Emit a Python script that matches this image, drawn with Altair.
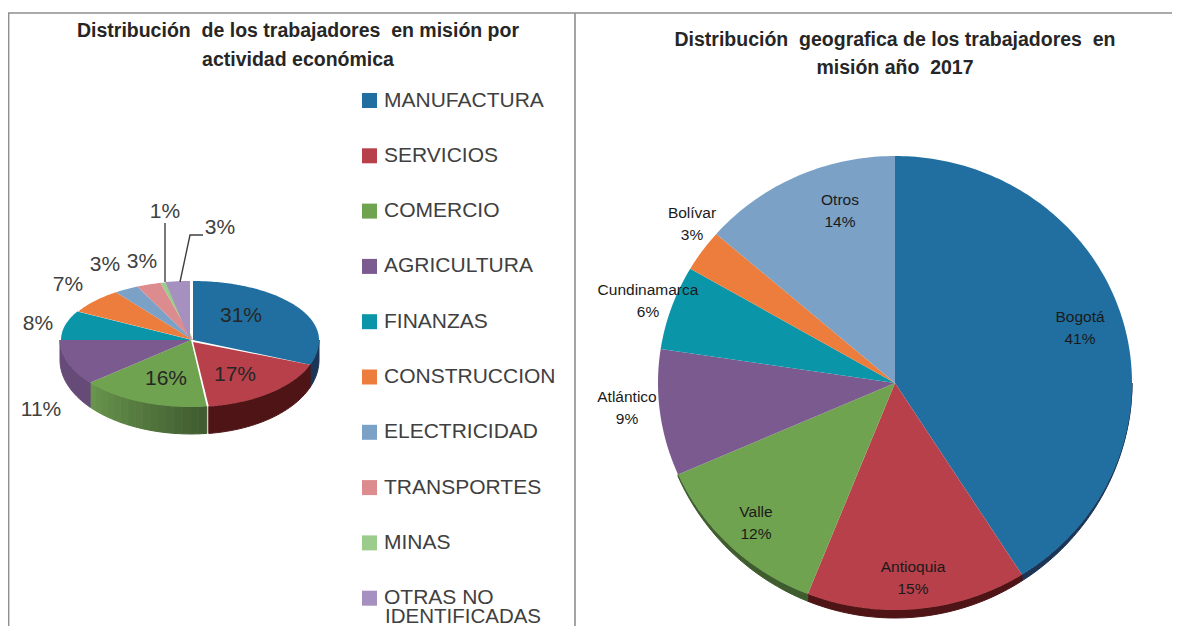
import math
import altair as alt
import pandas as pd

# ---------- data ----------
NB = "\u00a0"
left_title = [f"Distribución{NB} de los trabajadores{NB} en misión por", "actividad económica"]
right_title = [f"Distribución{NB} geografica de los trabajadores{NB} en", f"misión año{NB} 2017"]

sectors = ["MANUFACTURA", "SERVICIOS", "COMERCIO", "AGRICULTURA", "FINANZAS", "CONSTRUCCION",
           "ELECTRICIDAD", "TRANSPORTES", "MINAS", "OTRAS NO IDENTIFICADAS"]
sector_pct = [31, 17, 16, 11, 8, 7, 3, 3, 1, 3]

regions = ["Bogotá", "Antioquia", "Valle", "Atlántico", "Cundinamarca", "Bolívar", "Otros"]
region_share = [41, 15, 12.4, 9, 6, 3, 13.6]
region_pct = [41, 15, 12, 9, 6, 3, 14]

# ---------- styling / layout ----------
palette = ["#216fa0", "#b8404b", "#70a350", "#7a5a8f", "#0a96a8", "#ec7d3c",
           "#7ba1c6", "#dc8b8f", "#9ccc8c", "#a690bf"]
wall_left = ["#1c3556", "#4f1416", "#5d8445", "#664a78", None, None, None, None, None, None]
wall_right = ["#1c3556", "#4f1416", "#3f5c2e", None, None, None, None]
FONT = "Liberation Sans"
INK = "#404040"
DARK = "#262626"
OX, OY = 8, 8
W, H = 1164, 618

identity = dict(type="identity", scale=1, translate=[-OX, -OY])


def rim_l(t):
    s, c = math.sin(t), math.cos(t)
    return 193 + (126 if s > 0 else 131) * s, 340 - (59 if c > 0 else 67) * c


def rim_r(t):
    return 895 + 237 * math.sin(t), 383 - 227 * math.cos(t)


def depth_l(t):
    return 20 - 7 * math.cos(t)


def depth_r(t):
    return 8 * max(0, -math.cos(t)) ** 1.5


def feature(ring, **props):
    return {"type": "Feature", "properties": props,
            "geometry": {"type": "Polygon", "coordinates": [ring]}}


def spans(shares):
    total = sum(shares)
    acc = 0
    out = []
    for v in shares:
        out.append((acc / total * 2 * math.pi, (acc + v) / total * 2 * math.pi))
        acc += v
    return out


def arc_pts(rim, a, b, dx=0):
    n = max(2, int((b - a) / math.radians(1)) + 1)
    return [[rim(a + (b - a) * i / n)[0] + dx, rim(a + (b - a) * i / n)[1]] for i in range(n + 1)]


def shade(hex_c, f):
    r, g, b = [int(hex_c[i:i + 2], 16) for i in (1, 3, 5)]
    return "#%02x%02x%02x" % (min(255, int(r * f)), min(255, int(g * f)), min(255, int(b * f)))


def walls(rim, depth, shares, colours, dxs, graded):
    feats = []
    for i, (a, b) in enumerate(spans(shares)):
        if colours[i] is None:
            continue
        a2, b2 = max(a, math.pi / 2), min(b, 3 * math.pi / 2)
        if b2 <= a2:
            continue
        d = dxs[i]
        if i not in graded:
            n = max(2, int((b2 - a2) / math.radians(2)))
            ts = [a2 + (b2 - a2) * k / n for k in range(n + 1)]
            top = [[rim(t)[0] + d, rim(t)[1]] for t in ts]
            low = [[rim(t)[0] + d, rim(t)[1] + depth(t)] for t in reversed(ts)]
            feats.append(feature(top + low + [top[0]], fill=colours[i]))
            continue
        # lit from the left: the wall is cut into bands that darken left to right
        n = 16
        for k in range(n):
            t0 = a2 + (b2 - a2) * k / n
            t1 = a2 + (b2 - a2) * (k + 1) / n
            x0, y0 = rim(t0)
            x1, y1 = rim(t1)
            ring = [[x0 + d, y0], [x1 + d, y1], [x1 + d, y1 + depth(t1)], [x0 + d, y0 + depth(t0)], [x0 + d, y0]]
            pos = (t0 - a2) / (b2 - a2)          # 0 at the right end, 1 at the left end
            feats.append(feature(ring, fill=shade(colours[i], 0.7 + 0.45 * pos)))
    return feats


# ---------- left pie ----------
left_dx = [0, 0, -2, -2, -1, 0, 0, 0, 0, -3]
left_walls = walls(rim_l, depth_l, sector_pct, wall_left, left_dx, {2})
left_faces = []
for i, (a, b) in enumerate(spans(sector_pct)):
    apex = [193 + left_dx[i], 340 + (2 if i == 1 else 0)]
    left_faces.append(feature([apex] + arc_pts(rim_l, a, b, left_dx[i]) + [apex], name=sectors[i]))

# ---------- right pie ----------
right_walls = walls(rim_r, depth_r, region_share, wall_right, [0] * 7, set())
right_faces = []
for i, (a, b) in enumerate(spans(region_share)):
    apex = [895, 383]
    right_faces.append(feature([apex] + arc_pts(rim_r, a, b) + [apex], fill=palette[i]))

wall_layer = alt.Chart(alt.Data(values=left_walls + right_walls)).mark_geoshape(strokeWidth=1).encode(
    fill=alt.Fill("properties.fill:N", scale=None),
    stroke=alt.Stroke("properties.fill:N", scale=None),
).project(**identity)

right_layer = alt.Chart(alt.Data(values=right_faces)).mark_geoshape(strokeWidth=0).encode(
    fill=alt.Fill("properties.fill:N", scale=None),
).project(**identity)

left_layer = alt.Chart(alt.Data(values=left_faces)).mark_geoshape(strokeWidth=0).encode(
    color=alt.Color(
        "properties.name:N",
        scale=alt.Scale(domain=sectors, range=palette),
        legend=alt.Legend(
            title=None, orient="none", legendX=359 - OX, legendY=90 - OY, symbolType="square",
            symbolSize=225, symbolStrokeWidth=0, symbolOpacity=1, labelFont=FONT, labelFontSize=21,
            labelColor=INK, rowPadding=33.3, labelOffset=4, labelLimit=300, padding=0, offset=0,
            labelExpr="replace(datum.label, ' IDENTIFICADAS', '')",
        ),
    ),
).project(**identity)

# ---------- texts ----------
texts = []


def add(x, y, t, size, color, weight="normal"):
    texts.append({"x": x - OX, "y": y - OY, "t": t, "s": size, "c": color, "w": weight})


add(298, 31, left_title[0], 19.5, DARK, "bold")
add(298, 60, left_title[1], 19.5, DARK, "bold")
add(895, 40, right_title[0], 19.5, DARK, "bold")
add(895, 68, right_title[1], 19.5, DARK, "bold")

sector_spots = [(241, 316), (235, 375), (166, 379), (41, 410), (38, 324), (68, 285),
                (105, 265), (142, 262), (165, 212), (220, 228)]
for i, ((x, y), p) in enumerate(zip(sector_spots, sector_pct)):
    add(x, y, f"{p}%", 21, DARK if i < 3 else INK)

add(463, 617, "IDENTIFICADAS", 20.5, INK)

region_spots = [(1080, 317), (913, 567), (756, 512), (627, 397), (648, 290), (692, 213), (840, 200)]
for (x, y), r, p in zip(region_spots, regions, region_pct):
    add(x, y, r, 15.5, "#1a1a1a")
    add(x, y + 22, f"{p}%", 15.5, "#1a1a1a")

tdf = pd.DataFrame(texts)


def text_layer(weight):
    return alt.Chart(tdf[tdf.w == weight]).mark_text(
        font=FONT, baseline="middle", align="center", fontWeight=weight
    ).encode(
        x=alt.X("x:Q", scale=None, axis=None),
        y=alt.Y("y:Q", scale=None, axis=None),
        text="t:N",
        size=alt.Size("s:Q", scale=None, legend=None),
        color=alt.Color("c:N", scale=None, legend=None),
    )


# ---------- frame and leader lines ----------
def polyline_df(groups):
    rows = []
    for g, pts in enumerate(groups):
        for o, (x, y) in enumerate(pts):
            rows.append({"g": g, "o": o, "x": x - OX, "y": y - OY})
    return pd.DataFrame(rows)


def line_layer(groups, color, width):
    return alt.Chart(polyline_df(groups)).mark_line(color=color, strokeWidth=width).encode(
        x=alt.X("x:Q", scale=None, axis=None),
        y=alt.Y("y:Q", scale=None, axis=None),
        detail="g:N",
        order="o:Q",
    )


frame = line_layer([[(8.6, 634), (8.6, 13), (1180, 13)], [(575, 13), (575, 634)]], "#8f8f8f", 1.6)
leaders = line_layer([[(165, 223), (165, 282)], [(180, 282), (190, 235), (203, 235)]], INK, 1.4)

chart = alt.layer(
    frame, wall_layer, right_layer, left_layer, leaders, text_layer("normal"), text_layer("bold")
).resolve_scale(
    color="independent"
).properties(
    width=W, height=H, padding=0, background="white",
    autosize=alt.AutoSizeParams(type="none", contains="padding"),
).configure_view(stroke=None)

chart.save("out.html", embed_options={"renderer": "svg", "actions": False})
